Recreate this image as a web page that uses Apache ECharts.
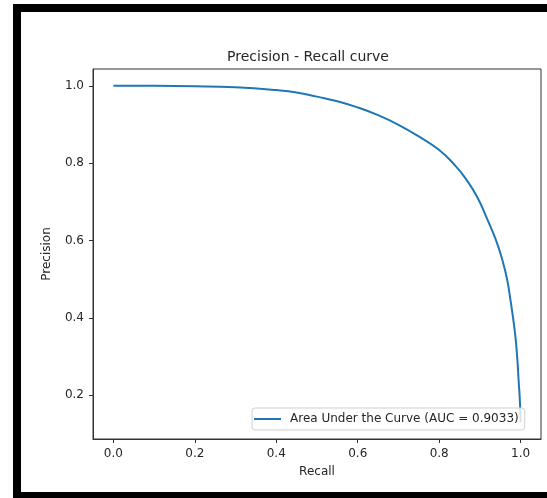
<!DOCTYPE html>
<html>
<head>
<meta charset="utf-8">
<script src="https://cdn.jsdelivr.net/npm/echarts@6/dist/echarts.min.js"></script>
<style>
  html, body { margin: 0; padding: 0; background: #fff; }
  #chart { width: 547px; height: 498px; }
  /* black frame of the screenshot */
  .frame { position: absolute; background: #000; pointer-events: none; }
</style>
</head>
<body>
<div id="chart"></div>
<div class="frame" style="left:13px; top:4px; width:534px; height:8px"></div>
<div class="frame" style="left:13px; top:4px; width:8px; height:494px"></div>
<div class="frame" style="left:13px; top:492px; width:534px; height:6px"></div>
<script>
// values
const recall = [0, 0.1, 0.2, 0.3, 0.4, 0.45, 0.5, 0.55, 0.6, 0.65, 0.7, 0.75, 0.8, 0.84, 0.865,
  0.894, 0.918, 0.939, 0.955, 0.967, 0.975, 0.982, 0.988, 0.992, 0.995, 0.998, 1.0]
const precision = [1.0, 1.0, 0.999, 0.996, 0.989, 0.983, 0.972, 0.96, 0.944, 0.924, 0.899, 0.869, 0.834, 0.793, 0.76,
  0.711, 0.655, 0.602, 0.55, 0.498, 0.446, 0.395, 0.343, 0.291, 0.239, 0.188, 0.13]
const xTicks = [0, 0.2, 0.4, 0.6, 0.8, 1.0]
const yTicks = [0.2, 0.4, 0.6, 0.8, 1.0]
const seriesName = 'Area Under the Curve (AUC = 0.9033)'

const font = 'DejaVu Sans'
const ink = '#262626'

const chart = echarts.init(document.getElementById('chart'))

chart.setOption({
  animation: false,
  title: {
    text: 'Precision - Recall curve',
    left: 303,
    top: 45,
    textAlign: 'center',
    textStyle: { fontFamily: font, fontSize: 14, fontWeight: 'normal', color: ink },
  },
  grid: {
    left: 93, top: 69, right: 6, bottom: 59,
    show: true, borderColor: '#333', borderWidth: 1,
  },
  legend: {
    left: 252, top: 408,
    padding: [5, 6, 5, 2],
    borderColor: '#d0d0d0', borderWidth: 1, borderRadius: 3,
    backgroundColor: 'rgba(255,255,255,0.8)',
    icon: 'rect', itemWidth: 27, itemHeight: 2,
    textStyle: { fontFamily: font, fontSize: 12, color: ink, padding: [0, 0, 0, 4] },
    data: [seriesName],
  },
  xAxis: {
    type: 'value', min: -0.05, max: 1.05,
    name: 'Recall', nameLocation: 'middle', nameGap: 27,
    nameTextStyle: { fontFamily: font, fontSize: 12, color: ink },
    axisLine: { show: true, onZero: false, lineStyle: { color: '#333' } },
    axisTick: { show: true, length: 4, customValues: xTicks, lineStyle: { color: '#333' } },
    axisLabel: { customValues: xTicks, margin: 9, fontFamily: font, fontSize: 12, color: ink,
      formatter: v => v.toFixed(1) },
    splitLine: { show: false },
  },
  yAxis: {
    type: 'value', min: 0.0865, max: 1.0435,
    name: 'Precision', nameLocation: 'middle', nameGap: 40,
    nameTextStyle: { fontFamily: font, fontSize: 12, color: ink },
    axisLine: { show: true, onZero: false, lineStyle: { color: '#333' } },
    axisTick: { show: true, length: 4, customValues: yTicks, lineStyle: { color: '#333' } },
    axisLabel: { customValues: yTicks, margin: 9, fontFamily: font, fontSize: 12, color: ink,
      formatter: v => v.toFixed(1) },
    splitLine: { show: false },
  },
  series: [{
    name: seriesName,
    type: 'line',
    data: recall.map((r, i) => [r, precision[i]]),
    showSymbol: false,
    smooth: 0.5,
    lineStyle: { color: '#1f77b4', width: 2 },
    itemStyle: { color: '#1f77b4' },
  }],
})
</script>
</body>
</html>
